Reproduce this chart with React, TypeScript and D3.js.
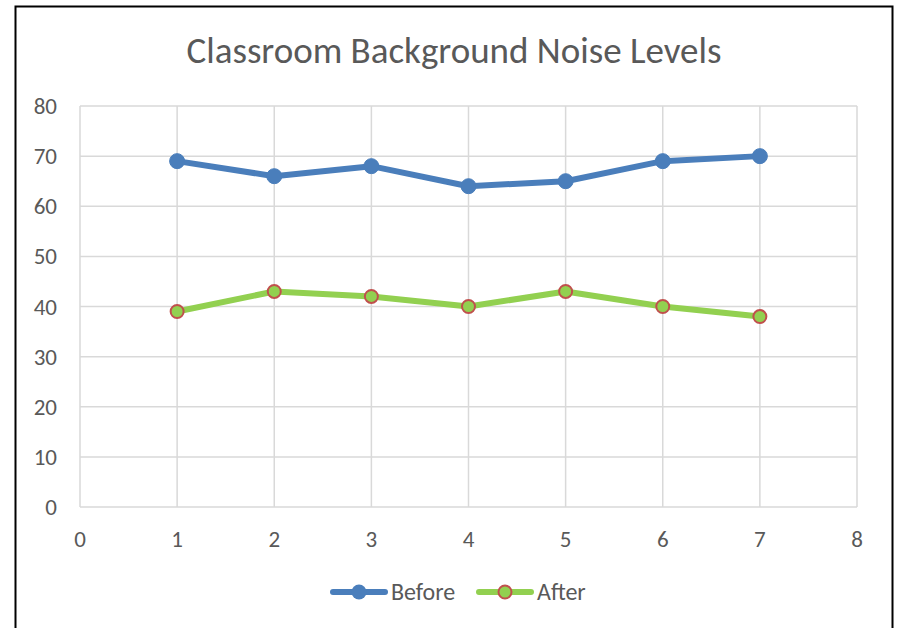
import React from "react";
import * as d3 from "d3";

const xValues = [1, 2, 3, 4, 5, 6, 7];
const beforeValues = [69, 66, 68, 64, 65, 69, 70];
const afterValues = [39, 43, 42, 40, 43, 40, 38];
const xTicks = [0, 1, 2, 3, 4, 5, 6, 7, 8];
const yTicks = [0, 10, 20, 30, 40, 50, 60, 70, 80];
const seriesNames = ["Before", "After"];
const title = "Classroom Background Noise Levels";

const W = 897;
const H = 628;
const FONT = "Calibri, Carlito, 'Open Sans', 'Noto Sans', sans-serif";

export default function App() {
  const x = d3.scaleLinear().domain([0, 8]).range([80, 857]);
  const y = d3.scaleLinear().domain([0, 80]).range([507, 106]);
  const line = d3
    .line<number>()
    .x((_, i) => x(xValues[i]))
    .y((d) => y(d));
  const blue = "#4A7EBB";
  const green = "#92D050";
  const red = "#C0504D";
  const textColor = "#595959";
  const grid = "#D9D9D9";

  return (
    <svg
      width={W}
      height={H}
      style={{ position: "absolute", left: 0, top: 0 }}
      fontFamily={FONT}
    >
      <rect x={0} y={0} width={W} height={H} fill="#fff" />
      <rect x={15.5} y={6.5} width={877} height={640} fill="none" stroke="#000" strokeWidth={2} />
      <text x={454} y={63} textAnchor="middle" fontSize={37} fill={textColor}>
        {title}
      </text>
      {yTicks.map((t) => (
        <line key={"h" + t} x1={80} x2={857} y1={y(t)} y2={y(t)} stroke={grid} strokeWidth={1.5} />
      ))}
      {xTicks.map((t) => (
        <line key={"v" + t} x1={x(t)} x2={x(t)} y1={y(0)} y2={y(80)} stroke={grid} strokeWidth={1.5} />
      ))}
      {yTicks.map((t) => (
        <text key={"yl" + t} x={57} y={y(t) + 8} textAnchor="end" fontSize={23} fill={textColor}>
          {t}
        </text>
      ))}
      {xTicks.map((t) => (
        <text key={"xl" + t} x={x(t)} y={547} textAnchor="middle" fontSize={23} fill={textColor}>
          {t}
        </text>
      ))}
      <path d={line(beforeValues) || ""} fill="none" stroke={blue} strokeWidth={6} strokeLinejoin="round" strokeLinecap="round" />
      <path d={line(afterValues) || ""} fill="none" stroke={green} strokeWidth={6} strokeLinejoin="round" strokeLinecap="round" />
      {beforeValues.map((v, i) => (
        <circle key={"b" + i} cx={x(xValues[i])} cy={y(v)} r={7.5} fill={blue} stroke={blue} strokeWidth={1} />
      ))}
      {afterValues.map((v, i) => (
        <circle key={"a" + i} cx={x(xValues[i])} cy={y(v)} r={6.5} fill={green} stroke={red} strokeWidth={2} />
      ))}
      {/* legend */}
      <line x1={333} x2={385} y1={592} y2={592} stroke={blue} strokeWidth={6} strokeLinecap="round" />
      <circle cx={359} cy={592} r={7.5} fill={blue} />
      <text x={391} y={600} fontSize={24} fill={textColor}>{seriesNames[0]}</text>
      <line x1={479} x2={531} y1={592} y2={592} stroke={green} strokeWidth={6} strokeLinecap="round" />
      <circle cx={505} cy={592} r={6.5} fill={green} stroke={red} strokeWidth={2} />
      <text x={537} y={600} fontSize={24} fill={textColor}>{seriesNames[1]}</text>
    </svg>
  );
}
